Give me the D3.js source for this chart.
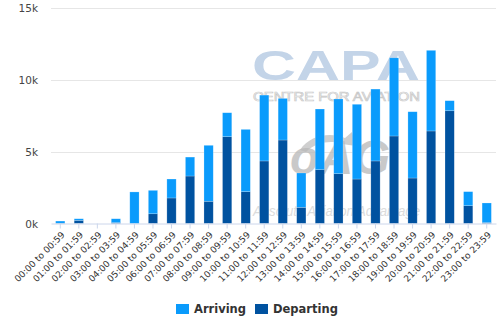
<!DOCTYPE html>
<html>
<head>
<meta charset="utf-8">
<script src="https://cdn.jsdelivr.net/npm/d3@7"></script>
<style>
  html, body { margin: 0; padding: 0; background: #fff; }
  svg { display: block; font-family: "DejaVu Sans", Verdana, sans-serif; }
</style>
</head>
<body>
<svg id="chart" width="504" height="336"></svg>
<script>
// Hourly movements: departing flights stacked under arriving flights
const hours = [
  "00:00 to 00:59", "01:00 to 01:59", "02:00 to 02:59", "03:00 to 03:59",
  "04:00 to 04:59", "05:00 to 05:59", "06:00 to 06:59", "07:00 to 07:59",
  "08:00 to 08:59", "09:00 to 09:59", "10:00 to 10:59", "11:00 to 11:59",
  "12:00 to 12:59", "13:00 to 13:59", "14:00 to 14:59", "15:00 to 15:59",
  "16:00 to 16:59", "17:00 to 17:59", "18:00 to 18:59", "19:00 to 19:59",
  "20:00 to 20:59", "21:00 to 21:59", "22:00 to 22:59", "23:00 to 23:59"
];
const departing = [
  20, 220, 0, 60, 0, 680, 1780, 3310, 1550, 6050, 2220, 4360,
  5820, 1130, 3750, 3470, 3100, 4360, 6100, 3170, 6450, 7860, 1240, 60
];
const arriving = [
  150, 110, 0, 270, 2200, 1630, 1320, 1320, 3900, 1670, 4340, 4590,
  2900, 2390, 4230, 5210, 5210, 5010, 5450, 4620, 5620, 700, 980, 1370
];
const yTicks = [0, 5000, 10000, 15000];
const seriesNames = ["Arriving", "Departing"];
const seriesColors = { Arriving: "#0a9bfc", Departing: "#0052a0" };

const svg = d3.select("#chart");
const plotLeft = 51, plotRight = 496, plotTop = 8.3, plotBottom = 223.5;

const x = d3.scaleBand().domain(hours).range([plotLeft, plotRight])
  .paddingInner(0.5).paddingOuter(0.25);
const y = d3.scaleLinear().domain([0, 15000]).range([plotBottom, plotTop]);

// Gridlines and y labels
const grid = svg.append("g");
grid.selectAll("line").data(yTicks.filter(d => d > 0)).join("line")
  .attr("x1", plotLeft).attr("x2", plotRight)
  .attr("y1", d => Math.round(y(d)) + 0.5).attr("y2", d => Math.round(y(d)) + 0.5)
  .attr("stroke", "#e6e6e6").attr("stroke-width", 1);
grid.selectAll("text").data(yTicks).join("text")
  .attr("x", 38).attr("y", d => y(d) + 4)
  .attr("text-anchor", "end").attr("font-size", 10.5).attr("fill", "#444")
  .text(d => d3.format("d")(d / 1000) + "k");

// Watermark behind the bars
const wm = svg.append("g").attr("font-family", "Liberation Sans, Arial, sans-serif");
wm.append("text").attr("x", 252).attr("y", 80)
  .attr("font-weight", "bold").attr("font-size", 42)
  .attr("textLength", 168).attr("lengthAdjust", "spacingAndGlyphs")
  .attr("fill", "#c3d4e8").text("CAPA");
wm.append("text").attr("x", 253).attr("y", 101)
  .attr("font-size", 12.5)
  .attr("textLength", 167).attr("lengthAdjust", "spacingAndGlyphs")
  .attr("fill", "none").attr("stroke", "#c8c8c8").attr("stroke-width", 0.7)
  .text("CENTRE FOR AVIATION");
wm.append("path")
  .attr("d", "M300,150 C310,135 330,132 345,138 L352,132 L356,146 L342,144 C332,140 316,142 306,152 Z")
  .attr("fill", "#cfcfcf");
wm.append("text").attr("x", 290).attr("y", 174)
  .attr("font-weight", "bold").attr("font-style", "italic").attr("font-size", 48)
  .attr("textLength", 100).attr("lengthAdjust", "spacingAndGlyphs")
  .attr("fill", "#b8b8b8").attr("opacity", 0.75).text("oAG");
wm.append("text").attr("x", 253).attr("y", 216)
  .attr("font-style", "italic").attr("font-size", 14)
  .attr("textLength", 167).attr("lengthAdjust", "spacingAndGlyphs")
  .attr("fill", "#dcdcdc").text("Absolute Aviation Advantage");

// Stacked bars
const rows = hours.map((h, i) => ({ hour: h, Departing: departing[i], Arriving: arriving[i] }));
const stack = d3.stack().keys(["Departing", "Arriving"])(rows);
svg.append("g").selectAll("g").data(stack).join("g")
  .attr("fill", d => seriesColors[d.key])
  .selectAll("rect").data(d => d.filter(p => p[1] - p[0] > 0)).join("rect")
  .attr("x", d => x(d.data.hour))
  .attr("width", x.bandwidth())
  .attr("y", d => y(d[1]))
  .attr("height", d => y(d[0]) - y(d[1]))
  .attr("stroke", "#ffffff").attr("stroke-opacity", 0.35).attr("stroke-width", 0.6);

// X axis
const xAxis = svg.append("g").attr("transform", `translate(0,${plotBottom})`)
  .call(d3.axisBottom(x).tickSize(5).tickSizeOuter(0));
xAxis.select(".domain").attr("stroke", "#ccd6eb");
xAxis.selectAll(".tick line").attr("stroke", "#ccd6eb");
xAxis.selectAll(".tick text")
  .attr("font-family", "DejaVu Sans, Verdana, sans-serif")
  .attr("font-size", 9).attr("fill", "#333")
  .attr("text-anchor", "end")
  .attr("dy", null).attr("y", 0)
  .attr("transform", "translate(5,12) rotate(-45)");

// Legend
const legend = svg.append("g");
const legendX = { Arriving: 176, Departing: 255 };
seriesNames.forEach(name => {
  legend.append("rect").attr("x", legendX[name]).attr("y", 304)
    .attr("width", 13).attr("height", 10).attr("fill", seriesColors[name]);
  legend.append("text").attr("x", legendX[name] + 18).attr("y", 313)
    .attr("font-size", 11.5).attr("font-weight", "bold").attr("fill", "#333")
    .text(name);
});
</script>
</body>
</html>
